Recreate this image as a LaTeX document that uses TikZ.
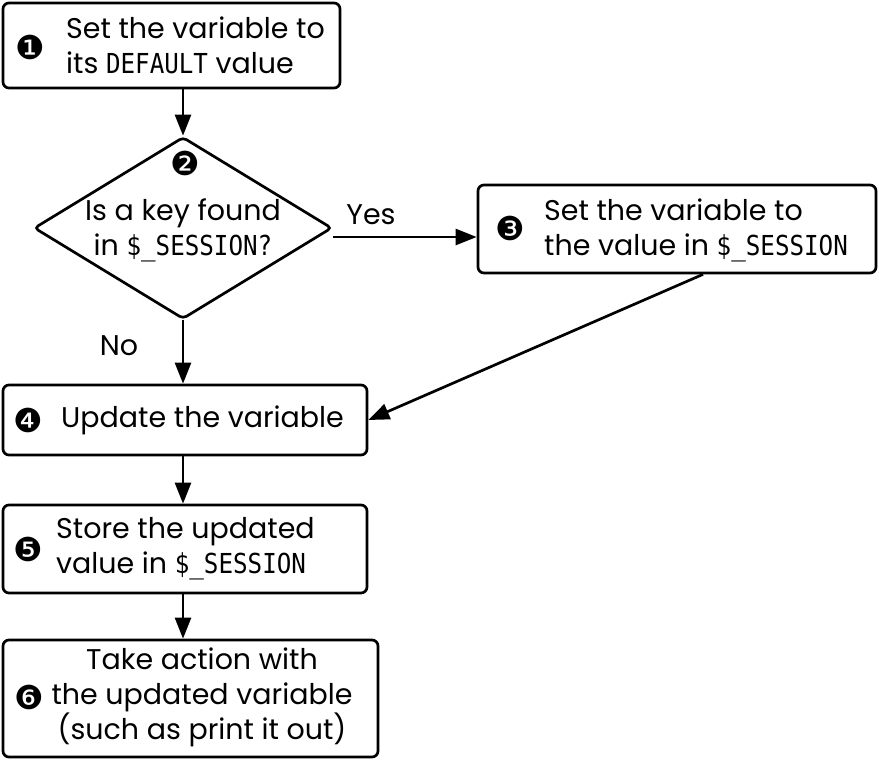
\documentclass[tikz,border=0pt]{standalone}
\usepackage{fontspec}
\setmainfont{Poppins}
\newfontfamily\codefont[FakeStretch=0.88]{DejaVu Sans Mono}
\newfontfamily\dingfont{DejaVu Sans}
\usetikzlibrary{arrows.meta,shapes.geometric}
\newcommand{\cd}[1]{{\codefont\fontsize{27.5}{35}\selectfont #1}}
\newcommand{\nb}[1]{{\dingfont\fontsize{33}{33}\selectfont #1}}
\begin{document}
\begin{tikzpicture}[x=1pt,y=-1pt,
  box/.style={draw, line width=2.7pt, rounded corners=6pt, inner sep=0pt},
  lbl/.style={inner sep=0pt, font=\fontsize{28.5}{35}\selectfont, align=left},
  arr/.style={line width=2.7pt, -{Triangle[length=21pt,width=16pt]}},
  tag/.style={inner sep=0pt}]
\useasboundingbox (0,0) rectangle (879,761);
% boxes
\node[box, minimum width=337pt, minimum height=85pt] (b1) at (171.5,45.5) {};
\node[draw, line width=2.7pt, diamond, rounded corners=4pt, inner sep=0pt,
      minimum width=298pt, minimum height=182pt] (dia) at (183,228) {};
\node[box, minimum width=398pt, minimum height=88pt] (b3) at (677,229) {};
\node[box, minimum width=364pt, minimum height=70pt] (b4) at (185,420) {};
\node[box, minimum width=364pt, minimum height=88pt] (b5) at (185,549) {};
\node[box, minimum width=375pt, minimum height=117pt] (b6) at (190.5,698.5) {};
% numbers
\node[tag] (n1) at (30,47) {\nb{❶}};
\node[tag] (n2) at (185,163) {\nb{❷}};
\node[tag] (n3) at (510,228) {\nb{❸}};
\node[tag] (n4) at (28,420) {\nb{❹}};
\node[tag] (n5) at (28,549) {\nb{❺}};
\node[tag] (n6) at (29,697) {\nb{❻}};
% texts
\node[lbl, anchor=west] (t1) at (66,45) {Set the variable to\\its \cd{DEFAULT} value};
\node[lbl, align=center] (t2) at (183,230) {Is a key found\\in \cd{\$\_SESSION?}};
\node[lbl, anchor=west] (t3) at (544,230) {Set the variable to\\the value in \cd{\$\_SESSION}};
\node[lbl, anchor=west] (t4) at (61,420) {Update the variable};
\node[lbl, anchor=west] (t5) at (56,549) {Store the updated\\value in \cd{\$\_SESSION}};
\node[lbl, align=center] (t6) at (202,697) {Take action with\\the updated variable\\(such as print it out)};
\node[lbl] (yes) at (371,215) {Yes};
\node[lbl] (no) at (119,346) {No};
% connectors
\coordinate (ys) at (333,237);
\draw[arr] (b1.south -| dia.north) -- (dia.north);
\draw[arr] (ys) -- (ys -| b3.west);
\draw[arr] (dia.south) -- (dia.south |- b4.north);
\draw[arr] ([xshift=26pt]b3.south) -- (b4.east);
\draw[arr] (b4.south -| dia.south) -- (b5.north -| dia.south);
\draw[arr] (b5.south -| dia.south) -- (b6.north -| dia.south);
\end{tikzpicture}
\end{document}
